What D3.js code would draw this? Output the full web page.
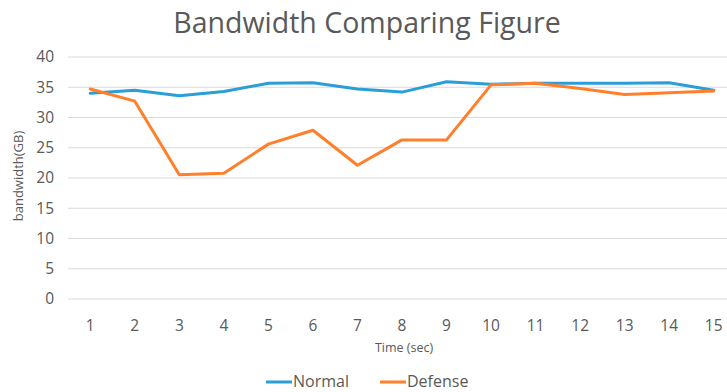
<!DOCTYPE html>
<html>
<head>
<meta charset="utf-8">
<script src="https://cdn.jsdelivr.net/npm/d3@7"></script>
<style>
  html, body { margin: 0; padding: 0; background: #fff; }
  svg { display: block; }
  text { font-family: "Open Sans", "Noto Sans", sans-serif; fill: #595959; }
</style>
</head>
<body>
<svg id="chart" width="727" height="392"></svg>
<script>
// Bandwidth per second for the two runs
const times = [1, 2, 3, 4, 5, 6, 7, 8, 9, 10, 11, 12, 13, 14, 15];
const normal = [34.0, 34.5, 33.6, 34.3, 35.65, 35.75, 34.7, 34.2, 35.9, 35.5, 35.65, 35.65, 35.65, 35.75, 34.5];
const defense = [34.7, 32.7, 20.55, 20.8, 25.6, 27.9, 22.1, 26.3, 26.3, 35.4, 35.65, 34.8, 33.8, 34.1, 34.4];
const yTicks = [0, 5, 10, 15, 20, 25, 30, 35, 40];
const seriesNames = ["Normal", "Defense"];
const colors = ["#2b9ed8", "#ff7f2a"];

(function draw() {
  const svg = d3.select("#chart");
  const plotLeft = 68, plotRight = 736, plotTop = 57, plotBottom = 299;

  const x = d3.scaleBand().domain(times).range([plotLeft, plotRight]);
  const y = d3.scaleLinear().domain([0, 40]).range([plotBottom, plotTop]);

  // Horizontal gridlines
  svg.append("g")
    .selectAll("line")
    .data(yTicks)
    .join("line")
    .attr("x1", plotLeft).attr("x2", plotRight)
    .attr("y1", d => y(d)).attr("y2", d => y(d))
    .attr("stroke", "#d9d9d9").attr("stroke-width", 1);

  // Y axis labels
  const yAxis = svg.append("g")
    .attr("transform", `translate(${plotLeft - 6},0)`)
    .call(d3.axisLeft(y).tickValues(yTicks).tickSize(0).tickPadding(8));
  yAxis.select(".domain").remove();
  yAxis.selectAll("text").style("font-size", "15.5px").attr("fill", "#595959")
    .attr("font-family", "Open Sans, Noto Sans, sans-serif");

  // X axis labels
  const xAxis = svg.append("g")
    .attr("transform", `translate(0,${plotBottom + 13})`)
    .call(d3.axisBottom(x).tickSize(0).tickPadding(8));
  xAxis.select(".domain").remove();
  xAxis.selectAll("text").style("font-size", "15.5px").attr("fill", "#595959")
    .attr("font-family", "Open Sans, Noto Sans, sans-serif");

  // Lines
  const line = d3.line()
    .x((d, i) => x(times[i]) + x.bandwidth() / 2)
    .y(d => y(d));

  [normal, defense].forEach((data, k) => {
    svg.append("path")
      .datum(data)
      .attr("d", line)
      .attr("fill", "none")
      .attr("stroke", colors[k])
      .attr("stroke-width", 3)
      .attr("stroke-linejoin", "round")
      .attr("stroke-linecap", "round");
  });

  // Title
  svg.append("text")
    .attr("x", 367).attr("y", 33)
    .attr("text-anchor", "middle")
    .style("font-size", "28.5px")
    .text("Bandwidth Comparing Figure");

  // Axis titles
  svg.append("text")
    .attr("x", 404).attr("y", 352)
    .attr("text-anchor", "middle")
    .style("font-size", "12.5px")
    .text("Time (sec)");

  svg.append("text")
    .attr("transform", "translate(23,176) rotate(-90)")
    .attr("text-anchor", "middle")
    .style("font-size", "13px")
    .text("bandwidth(GB)");

  // Legend
  const legendItems = [{ x: 266, name: seriesNames[0], color: colors[0] },
                       { x: 380, name: seriesNames[1], color: colors[1] }];
  const lg = svg.append("g");
  legendItems.forEach(it => {
    lg.append("line")
      .attr("x1", it.x).attr("x2", it.x + 26)
      .attr("y1", 382).attr("y2", 382)
      .attr("stroke", it.color).attr("stroke-width", 3);
    lg.append("text")
      .attr("x", it.x + 27).attr("y", 387)
      .style("font-size", "16px")
      .text(it.name);
  });
})();
</script>
</body>
</html>
